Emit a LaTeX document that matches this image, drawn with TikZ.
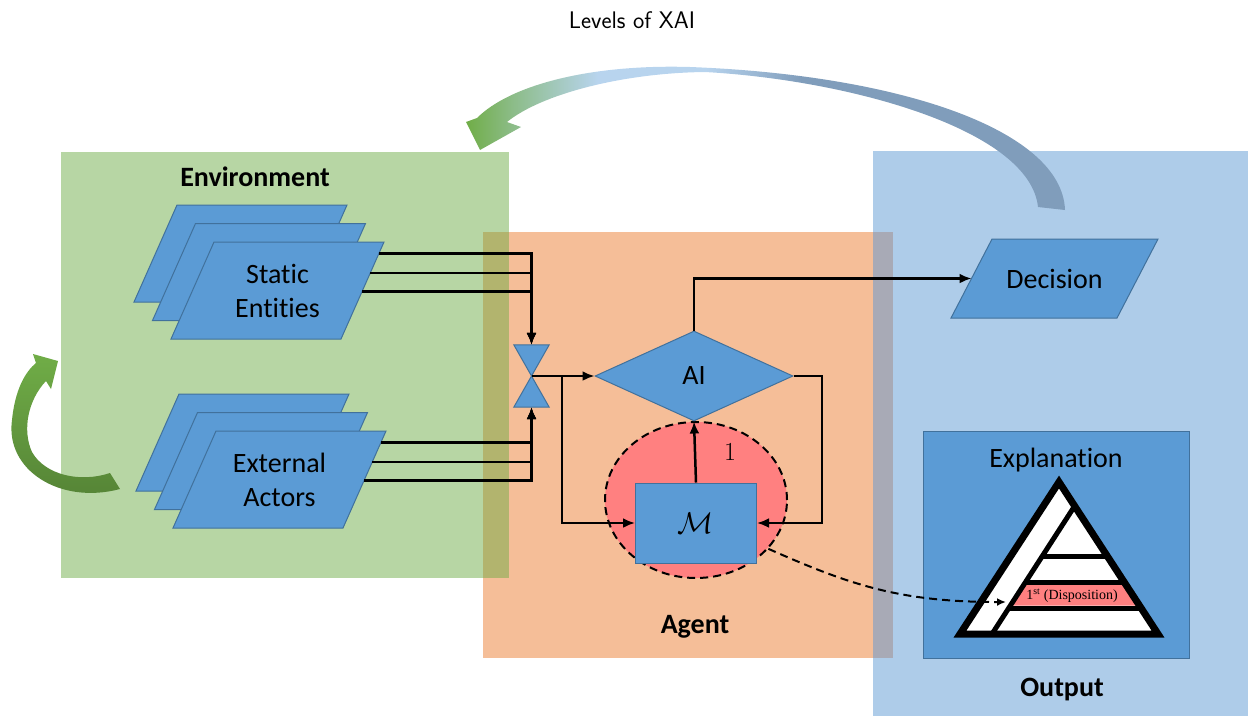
\documentclass[tikz,border=0pt]{standalone}
\usepackage{fix-cm}
\usepackage{fontspec}
\setmainfont{Carlito}[Ligatures=CommonOff]
\newfontfamily\timesfont{Liberation Serif}
\usetikzlibrary{shapes.geometric,calc,arrows.meta}

\begin{document}
\begin{tikzpicture}[x=1pt,y=-1pt,>={Latex[length=12pt,width=10pt]},
	kasten/.style={fill=kastenblau,draw=kantenblau,line width=1pt},
	schrift/.style={font=\fontsize{28}{34}\selectfont,align=center},
	titel/.style={font=\bfseries\fontsize{28}{34}\selectfont},
	fluss/.style={->,line width=2.5pt}]

\definecolor{gruenbg}{RGB}{183,214,164}
\definecolor{orangebg}{RGB}{245,190,152}
\definecolor{blaubg}{RGB}{174,204,233}
\definecolor{olivbg}{RGB}{178,180,110}
\definecolor{graubg}{RGB}{168,170,182}
\definecolor{kastenblau}{RGB}{91,155,213}
\definecolor{kantenblau}{RGB}{65,113,156}
\definecolor{rosa}{RGB}{255,128,128}
\definecolor{pfeilgruen}{RGB}{112,173,71}
\definecolor{dunkelgruen}{RGB}{84,130,53}
\definecolor{hellblau}{RGB}{184,212,238}
\definecolor{schiefer}{RGB}{128,157,187}

\pgfdeclarehorizontalshading{bogen}{100bp}{color(0bp)=(pfeilgruen); color(25bp)=(pfeilgruen);
	color(29bp)=(pfeilgruen!60!hellblau); color(36bp)=(hellblau); color(45bp)=(hellblau);
	color(53bp)=(schiefer); color(100bp)=(schiefer)}

\def\blatt#1#2{
	\filldraw[kasten] ({#1-63.5},{#2-48.5}) -- ({#1+106.5},{#2-48.5})
		-- ({#1+63.5},{#2+48.5}) -- ({#1-106.5},{#2+48.5}) -- cycle;
}

\def\stapel#1#2#3#4{
	\foreach \k in {2,1,0}{
		\blatt{#2-18.5*\k}{#3-18.5*\k}
	}
	\node[schrift] (#1) at (#2,#3) {#4};
	\coordinate (#1-or) at ({#2+106.5},{#3-48.5});
	\coordinate (#1-ur) at ({#2+63.5},{#3+48.5});
}

\useasboundingbox (0,0) rectangle (1252,716);

% Hintergrund
\fill[gruenbg] (61,152) rectangle (509,578);
\fill[orangebg] (483,232) rectangle (893,658);
\fill[blaubg] (873,151) rectangle (1248,716);
\fill[olivbg] (483,232) rectangle (509,578);
\fill[graubg] (873,232) rectangle (893,658);

\node[font=\sffamily\fontsize{24}{28}\selectfont] (xai) at (632,20) {Levels of XAI};

% Rueckkopplung
\shade[shading=bogen] (1065,210) .. controls (1062,130) and (900,75) .. (690,67)
	.. controls (590,64) and (510,85) .. (477,118) -- (466,122) -- (480,150) -- (521,127)
	-- (507,122) .. controls (540,95) and (620,73) .. (705,72)
	.. controls (850,80) and (1030,130) .. (1038,207) -- cycle;
\shade[top color=pfeilgruen,bottom color=dunkelgruen] (120,489) .. controls (60,505) and (5,470) .. (12,420)
	.. controls (15,390) and (25,372) .. (36,363) -- (33,354) -- (58,361) -- (51,389) -- (46,381)
	.. controls (28,400) and (22,430) .. (32,452) .. controls (45,475) and (80,483) .. (110,473) -- cycle;

\node[titel] (umwelt) at (255,177) {Environment};
\node[titel] (agent) at (695,627) {Agent};
\node[titel] (ausgabe) at (1062,690) {Output};

% Umwelt
\stapel{statisch}{277.5}{290.5}{Static\\Entities}
\stapel{akteure}{279.5}{479.5}{External\\Actors}

% Agent
\node[ellipse,draw,fill=rosa,line width=2pt,dash pattern=on 8pt off 5pt,
	minimum width=182pt,minimum height=156pt] (halo) at (696,500) {};
\node[minimum width=35pt,minimum height=62pt,inner sep=0pt] (mix) at (531.5,376) {};
\filldraw[kasten] (mix.north west) -- (mix.north east) -- (mix.center) -- cycle;
\filldraw[kasten] (mix.south west) -- (mix.south east) -- (mix.center) -- cycle;
\node[kasten,diamond,minimum width=198pt,minimum height=90pt,inner sep=0pt,schrift] (ai) at (694,376) {AI};
\node[kasten,minimum width=121pt,minimum height=80pt,font=\fontsize{30}{32}\selectfont] (m) at (696,523) {$\mathcal{M}$};
\node[font=\fontsize{26}{28}\selectfont] (eins) at (730,452) {$1$};
\coordinate (split) at (562,376);
\coordinate (rechts) at (822,376);

% Ausgabe
\filldraw[kasten] (992,239) -- (1158,239) -- (1117,318) -- (951,318) -- cycle;
\node[schrift] (dec) at (1054.5,278.5) {Decision};
\coordinate (dec-links) at (971.5,278.5);
\node[kasten,minimum width=266pt,minimum height=227pt] (expl) at (1056,544.5) {};
\node[schrift] (expltitel) at (1056,460) {Explanation};

% Pyramide
\fill[white] (1059,482) -- (1158,634) -- (960,634) -- cycle;
\fill[rosa] ({1074-0.646*(584.5-507)},584.5) -- ({1059+0.651*(584.5-482)},584.5)
	-- ({1059+0.651*(605.5-482)},605.5) -- ({1074-0.646*(605.5-507)},605.5) -- cycle;
\foreach \yy in {556,582,608}{
	\draw[line width=5pt] ({1074-0.646*(\yy-507)},\yy) -- ({1059+0.651*(\yy-482)},\yy);
}
\draw[line width=5pt] (1074,507) -- (992,634);
\draw[line width=7pt,line join=miter] (1059,482) -- (1158,634) -- (960,634) -- cycle;
\node[font=\timesfont\fontsize{14}{16}\selectfont,inner sep=0pt] (dispo) at (1072,596) {1\textsuperscript{st} (Disposition)};
\coordinate (ziel) at (1006,602);

% Verbindungen
\foreach \f in {0.12,0.32,0.51}{
	\draw[fluss] ($(statisch-or)!\f!(statisch-ur)$) -| (mix.north);
	\draw[fluss] ($(akteure-or)!\f!(akteure-ur)$) -| (mix.south);
}
\draw[fluss] (mix.center) -- (ai.west);
\draw[fluss] (split) |- (m.west);
\draw[fluss] (ai.east) -- (rechts) |- (m.east);
\draw[fluss] (m.north) -- (ai.south);
\draw[fluss] (ai.north) |- (dec-links);
\draw[-{Latex[length=9pt,width=8pt]},line width=2pt,dash pattern=on 8pt off 5pt] (halo.-34) .. controls (850,585) and (900,602) .. (ziel);

\end{tikzpicture}
\end{document}
